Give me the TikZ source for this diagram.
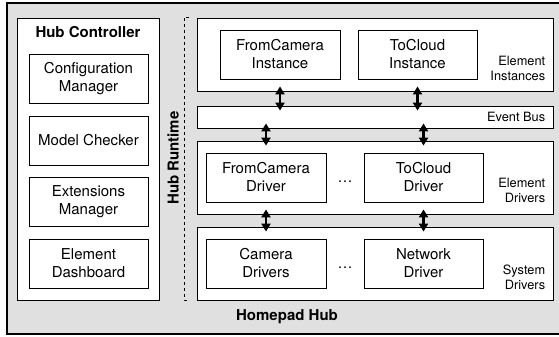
\documentclass[tikz,border=0pt]{standalone}
\usepackage{fontspec}
\setmainfont{TeX Gyre Heros}
\usetikzlibrary{arrows.meta}

\tikzset{
	hub/.style={draw, line width=1.8pt, fill=black!12},
	panel/.style={draw, line width=0.8pt, fill=white, inner sep=0pt},
	comp/.style={draw, line width=0.8pt, fill=white, align=center, inner sep=0pt,
		minimum width=119pt, minimum height=49pt, font=\fontsize{15}{18}\selectfont},
	tag/.style={align=right, inner sep=0pt, font=\fontsize{12.8}{14.5}\selectfont},
	title/.style={inner sep=0pt, font=\fontsize{15}{18}\selectfont\bfseries},
	link/.style={line width=2.2pt, shorten <=-5pt, shorten >=-5pt,
		{Triangle[length=8pt,width=9pt]}-{Triangle[length=8pt,width=9pt]}},
}

\begin{document}
\begin{tikzpicture}[x=1pt, y=-1pt]
	\useasboundingbox (0,0) rectangle (559,337);
	\draw[hub] (7,3) rectangle (566,334);

	\node[panel, minimum width=142pt, minimum height=282pt] (ctrl) at (88,159) {};
	\node[title] (ctrltitle) at (88,32) {Hub Controller};
	\node[comp] (config) at (88.5,79) {Configuration\\Manager};
	\node[comp] (checker) at (88.5,140.5) {Model Checker};
	\node[comp] (ext) at (88.5,202) {Extensions\\Manager};
	\node[comp] (dash) at (88.5,263.5) {Element\\Dashboard};

	\draw[dashed, line width=0.6pt] (189,17) -- (184,17) -- (184,300) -- (189,300);
	\node[title, rotate=90] (rtlabel) at (173,158) {Hub Runtime};

	\node[panel, minimum width=356pt, minimum height=73pt] (inst) at (375,54.5) {};
	\node[panel, minimum width=356pt, minimum height=22pt] (bus) at (375,117) {};
	\node[panel, minimum width=356pt, minimum height=73pt] (edrv) at (375,177.5) {};
	\node[panel, minimum width=356pt, minimum height=73pt] (sdrv) at (375,263.5) {};

	\node[comp, minimum width=120pt] (fcinst) at (280,54.5) {FromCamera\\Instance};
	\node[comp] (tcinst) at (417.5,54.5) {ToCloud\\Instance};
	\node[comp, minimum width=120pt] (fcdrv) at (266,177.5) {FromCamera\\Driver};
	\node[comp] (tcdrv) at (423.5,177.5) {ToCloud\\Driver};
	\node[comp, minimum width=120pt] (camdrv) at (266,263.5) {Camera\\Drivers};
	\node[comp] (netdrv) at (423.5,263.5) {Network\\Driver};
	\node[font=\fontsize{15}{18}\selectfont] (edots) at (345,177.5) {\vphantom{D}\dots};
	\node[font=\fontsize{15}{18}\selectfont] (sdots) at (345,263.5) {\vphantom{D}\dots};

	\node[tag, anchor=south east] (insttag) at ([xshift=-8pt, yshift=11pt]inst.south east) {Element\\Instances};
	\node[tag, anchor=east] (bustag) at ([xshift=-8pt]bus.east) {Event Bus};
	\node[tag, anchor=south east] (edrvtag) at ([xshift=-8pt, yshift=12pt]edrv.south east) {Element\\Drivers};
	\node[tag, anchor=south east] (sdrvtag) at ([xshift=-8pt, yshift=11pt]sdrv.south east) {System\\Drivers};

	\draw[link] (fcinst |- inst.south) -- (fcinst |- bus.north);
	\draw[link] (tcinst |- inst.south) -- (tcinst |- bus.north);
	\draw[link] (fcdrv |- bus.south) -- (fcdrv |- edrv.north);
	\draw[link] (tcdrv |- bus.south) -- (tcdrv |- edrv.north);
	\draw[link] (fcdrv |- edrv.south) -- (fcdrv |- sdrv.north);
	\draw[link] (tcdrv |- edrv.south) -- (tcdrv |- sdrv.north);

	\node[title] (hubtitle) at (287,317) {Homepad Hub};
\end{tikzpicture}
\end{document}
